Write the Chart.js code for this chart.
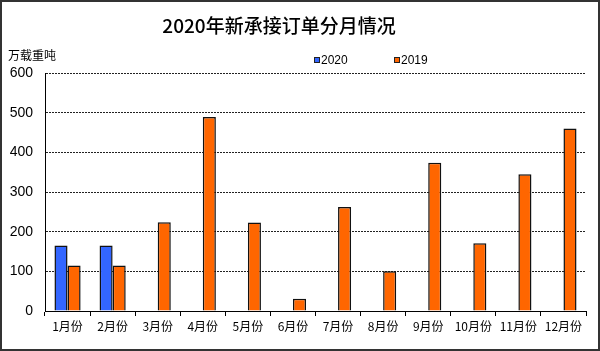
<!DOCTYPE html>
<html><head><meta charset="utf-8">
<script src="https://cdn.jsdelivr.net/npm/chart.js@4/dist/chart.umd.min.js"></script>
<style>html,body{margin:0;padding:0;background:#fff}#wrap{width:600px;height:351px;position:relative}</style>
</head><body><div id="wrap"><canvas id="c"></canvas></div>
<script>
const chartTitle = '2020年新承接订单分月情况';
const yAxisTitle = '万载重吨';
const categories = ['1月份','2月份','3月份','4月份','5月份','6月份','7月份','8月份','9月份','10月份','11月份','12月份'];
const series2020 = [165,165,null,null,null,null,null,null,null,null,null,null];
const series2019 = [115,115,224,489,223,31,262,100,374,171,345,460];
const yTicks = [0,100,200,300,400,500,600];

const frame = {
  id:'frame',
  afterDraw(chart){
    const ctx=chart.ctx;
    ctx.save();
    ctx.fillStyle='#000';
    ctx.font='500 19px "Noto Sans CJK SC"';
    ctx.textAlign='center'; ctx.textBaseline='middle';
    ctx.fillText(chartTitle,279,26);
    ctx.font='12px "Noto Sans CJK SC"';
    ctx.textAlign='left';
    ctx.fillText(yAxisTitle,8,55);
    const items=[{x:314,ds:chart.data.datasets[0]},{x:394,ds:chart.data.datasets[1]}];
    ctx.font='12px "Liberation Sans"';
    items.forEach(it=>{
      ctx.fillStyle=it.ds.backgroundColor;
      ctx.fillRect(it.x+0.5,57.5,5,5);
      ctx.strokeStyle='#222';ctx.lineWidth=1;
      ctx.strokeRect(it.x+0.5,57.5,5,5);
      ctx.fillStyle='#000';
      ctx.textBaseline='middle';
      ctx.fillText(it.ds.label,it.x+7,60.5);
    });
    ctx.strokeStyle='#333';ctx.lineWidth=2;
    ctx.strokeRect(1,1,598,349);
    ctx.restore();
  }
};

new Chart(document.getElementById('c'),{
  type:'bar',
  data:{labels:categories,datasets:[
    {label:'2020',data:series2020,backgroundColor:'#3366FF',borderColor:'#111',borderWidth:1.5},
    {label:'2019',data:series2019,backgroundColor:'#FF6600',borderColor:'#111',borderWidth:1.5}
  ]},
  options:{
    responsive:true,maintainAspectRatio:false,animation:false,
    layout:{padding:{top:73,right:14,left:0,bottom:0}},
    plugins:{legend:{display:false},title:{display:false},tooltip:{enabled:false}},
    datasets:{bar:{categoryPercentage:0.58,barPercentage:1}},
    scales:{
      x:{
        grid:{offset:true,drawOnChartArea:false,drawTicks:true,tickLength:5,color:'#000',tickColor:'#000'},
        border:{display:true,color:'#000',width:1},
        ticks:{color:'#000',font:{family:'"Noto Sans CJK SC"',size:12},padding:3,maxRotation:0,autoSkip:false},
        afterFit(s){s.height=40;}
      },
      y:{
        min:0,max:600,
        afterBuildTicks(s){s.ticks=yTicks.map(v=>({value:v}));},
        grid:{color:'#222',lineWidth:1,drawTicks:false},
        border:{display:true,color:'#000',width:1,dash:[2,1]},
        ticks:{color:'#000',font:{family:'"Liberation Sans"',size:14},padding:12},
        afterFit(s){s.width=45;}
      }
    }
  },
  plugins:[frame]
});
</script></body></html>
